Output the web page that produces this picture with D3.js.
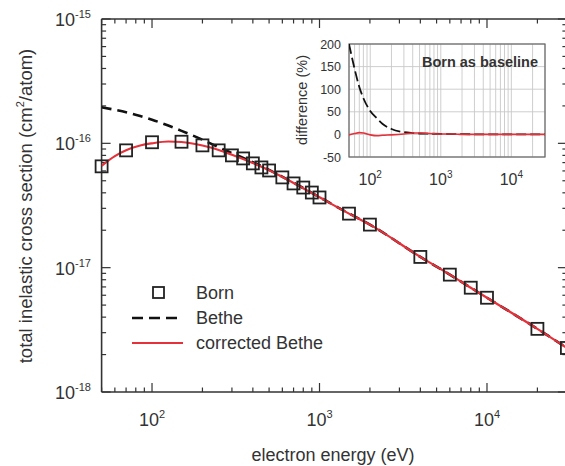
<!DOCTYPE html>
<html><head><meta charset="utf-8">
<script src="https://cdn.jsdelivr.net/npm/d3@7"></script>
<style>
body{margin:0;background:#fff}
svg{display:block}
text{font-family:"Liberation Sans",Arial,sans-serif;fill:#333}
</style>
</head><body>
<svg id="c" width="565" height="466"></svg>
<script>
// ---- data ----
const bornE = [50,70,100,150,200,250,300,350,400,450,500,600,700,800,900,1000,1500,2000,4000,6000,8000,10000,20000,30000];
const bornSigma = [6.53e-17,8.78e-17,1.02e-16,1.03e-16,9.63e-17,8.78e-17,8.0e-17,7.56e-17,6.9e-17,6.4e-17,6.05e-17,5.32e-17,4.76e-17,4.41e-17,4.02e-17,3.67e-17,2.72e-17,2.22e-17,1.22e-17,8.79e-18,6.9e-18,5.73e-18,3.22e-18,2.26e-18];
const betheE = [50,60,70,85,100,125,150,200,250,300,400,500,700,1000,1500,2000,4000,6000,8000,10000,20000,30000];
const betheSigma = [1.95e-16,1.86e-16,1.78e-16,1.66e-16,1.55e-16,1.39e-16,1.26e-16,1.07e-16,9.3e-17,8.35e-17,7.05e-17,6.12e-17,4.82e-17,3.69e-17,2.73e-17,2.22e-17,1.22e-17,8.79e-18,6.9e-18,5.73e-18,3.22e-18,2.26e-18];
const corrE = [50,60,70,85,100,125,150,200,250,300,400,500,700,1000,1500,2000,4000,6000,8000,10000,20000,30000];
const corrSigma = [6.6e-17,7.9e-17,8.8e-17,9.6e-17,1.0e-16,1.035e-16,1.025e-16,9.6e-17,8.85e-17,8.1e-17,6.95e-17,6.08e-17,4.8e-17,3.68e-17,2.72e-17,2.22e-17,1.22e-17,8.8e-18,6.9e-18,5.73e-18,3.22e-18,2.26e-18];
// inset: difference (%) with Born as baseline
const diffE = [50,60,70,80,100,125,150,200,300,400,500,700,1000,1500,2000,5000,10000,30000];
const diffBethe = [200,145,105,80,52,35,23,12,5,3,2,1.5,1,0.7,0.5,0,0,0];
const diffCorr = [-1,2,4,3,-1,-3,-2,-1,1,3,3,2,1,1,0,0,0,0];
const xMajorLabels = [2,3,4];
const yMajorLabels = [-15,-16,-17,-18];
const insetYTicks = [200,150,100,50,0,-50];
const legendItems = ["Born","Bethe","corrected Bethe"];

const svg = d3.select("#c");
const red = "#e4313a", ink = "#333";

// ---- main chart ----
const x = d3.scaleLog().domain([50,30000]).range([101.6,566.9]);
const y = d3.scaleLog().domain([1e-18,1e-15]).range([392,19]);
const L = x(50), R = x(30000), T = y(1e-15), B = y(1e-18);

const frame = svg.append("g").attr("stroke", ink).attr("stroke-width", 1.6);
frame.append("line").attr("x1",L).attr("x2",R).attr("y1",B).attr("y2",B);
frame.append("line").attr("x1",L).attr("x2",R).attr("y1",T).attr("y2",T);
frame.append("line").attr("x1",L).attr("x2",L).attr("y1",T).attr("y2",B);
frame.append("line").attr("x1",R).attr("x2",R).attr("y1",T).attr("y2",B);

const isMajor = v => Math.abs(Math.log10(v) - Math.round(Math.log10(v))) < 1e-9;
const tg = svg.append("g").attr("stroke", ink).attr("stroke-width", 1.2);
x.ticks().forEach(v => {
  const len = isMajor(v) ? 9 : 4.5, px = x(v);
  tg.append("line").attr("x1",px).attr("x2",px).attr("y1",B).attr("y2",B-len);
  tg.append("line").attr("x1",px).attr("x2",px).attr("y1",T).attr("y2",T+len);
});
y.ticks().forEach(v => {
  const len = isMajor(v) ? 9 : 4.5, py = y(v);
  tg.append("line").attr("x1",L).attr("x2",L+len).attr("y1",py).attr("y2",py);
  tg.append("line").attr("x1",R).attr("x2",R-len).attr("y1",py).attr("y2",py);
});

// tick labels
xMajorLabels.forEach(p => {
  const t = svg.append("text").attr("x", x(Math.pow(10,p))).attr("y", 426)
    .attr("text-anchor","middle").attr("font-size",18);
  t.append("tspan").text("10");
  t.append("tspan").attr("font-size",11).attr("dy",-8).text(p);
});
yMajorLabels.forEach(p => {
  const t = svg.append("text").attr("x", 91).attr("y", y(Math.pow(10,p))+7)
    .attr("text-anchor","end").attr("font-size",18);
  t.append("tspan").text("10");
  t.append("tspan").attr("font-size",11).attr("dy",-8).text(p);
});

// axis titles
svg.append("text").attr("x",333).attr("y",461).attr("text-anchor","middle")
  .attr("font-size",18).text("electron energy (eV)");
const yt = svg.append("text").attr("transform","translate(32,206) rotate(-90)")
  .attr("text-anchor","middle").attr("font-size",18.5);
yt.append("tspan").text("total inelastic cross section (cm");
yt.append("tspan").attr("font-size",11).attr("dy",-8).text("2");
yt.append("tspan").attr("dy",8).text("/atom)");

// lines
svg.append("defs").append("clipPath").attr("id","mclip")
  .append("rect").attr("x",L).attr("y",T).attr("width",R-L).attr("height",B-T);
const line = d3.line().curve(d3.curveMonotoneX);
const plot = svg.append("g").attr("clip-path","url(#mclip)");
plot.append("path").attr("d", line(betheE.map((e,i)=>[x(e), y(betheSigma[i])])))
  .attr("fill","none").attr("stroke","#111").attr("stroke-width",2.6).attr("stroke-dasharray","10,6");
svg.append("g").selectAll("rect").data(bornE).join("rect")
  .attr("x",(d)=>x(d)-6).attr("y",(d,i)=>y(bornSigma[i])-6).attr("width",12).attr("height",12)
  .attr("fill","none").attr("stroke","#222").attr("stroke-width",1.8);
plot.append("path").attr("d", line(corrE.map((e,i)=>[x(e), y(corrSigma[i])])))
  .attr("fill","none").attr("stroke",red).attr("stroke-width",2.2);

// legend
const lg = svg.append("g");
lg.append("rect").attr("x",153).attr("y",287).attr("width",11).attr("height",11)
  .attr("fill","none").attr("stroke","#222").attr("stroke-width",1.8);
lg.append("line").attr("x1",132).attr("x2",181).attr("y1",318).attr("y2",318)
  .attr("stroke","#111").attr("stroke-width",2.6).attr("stroke-dasharray","11,6");
lg.append("line").attr("x1",132).attr("x2",183).attr("y1",343).attr("y2",343)
  .attr("stroke",red).attr("stroke-width",2.2);
legendItems.forEach((s,i) => {
  lg.append("text").attr("x",196).attr("y",299+i*25).attr("font-size",18).text(s);
});

// ---- inset ----
const xi = d3.scaleLog().domain([50,30000]).range([349,545]);
const yi = d3.scaleLinear().domain([-50,200]).range([157,44]);
const ig = svg.append("g");
ig.append("rect").attr("x",349).attr("y",44).attr("width",196).attr("height",113).attr("fill","#fff");
xi.ticks().forEach(v => {
  ig.append("line").attr("x1",xi(v)).attr("x2",xi(v)).attr("y1",44).attr("y2",157)
    .attr("stroke","#c8c8c8").attr("stroke-width",0.9);
});
insetYTicks.forEach(v => {
  ig.append("line").attr("x1",349).attr("x2",545).attr("y1",yi(v)).attr("y2",yi(v))
    .attr("stroke","#c8c8c8").attr("stroke-width",0.9);
  ig.append("text").attr("x",341).attr("y",yi(v)+4.5).attr("text-anchor","end")
    .attr("font-size",12.5).text(v);
});
ig.append("rect").attr("x",349).attr("y",44).attr("width",196).attr("height",113)
  .attr("fill","none").attr("stroke","#666").attr("stroke-width",1.2);
svg.select("defs").append("clipPath").attr("id","iclip")
  .append("rect").attr("x",349).attr("y",44).attr("width",196).attr("height",113);
const ip = ig.append("g").attr("clip-path","url(#iclip)");
const lineI = d3.line().curve(d3.curveMonotoneX);
ip.append("path").attr("d", lineI(diffE.map((e,i)=>[xi(e), yi(diffBethe[i])])))
  .attr("fill","none").attr("stroke","#111").attr("stroke-width",1.8).attr("stroke-dasharray","10,4");
ip.append("path").attr("d", lineI(diffE.map((e,i)=>[xi(e), yi(diffCorr[i])])))
  .attr("fill","none").attr("stroke",red).attr("stroke-width",1.6);
ig.append("text").attr("x",538).attr("y",67).attr("text-anchor","end")
  .attr("font-size",14.5).attr("font-weight","bold").attr("fill","#333").text("Born as baseline");
xMajorLabels.forEach(p => {
  const t = ig.append("text").attr("x", xi(Math.pow(10,p))).attr("y", 185)
    .attr("text-anchor","middle").attr("font-size",16);
  t.append("tspan").text("10");
  t.append("tspan").attr("font-size",10).attr("dy",-7).text(p);
});
ig.append("text").attr("transform","translate(307,100) rotate(-90)")
  .attr("text-anchor","middle").attr("font-size",14.5).text("difference (%)");
</script>
</body></html>
